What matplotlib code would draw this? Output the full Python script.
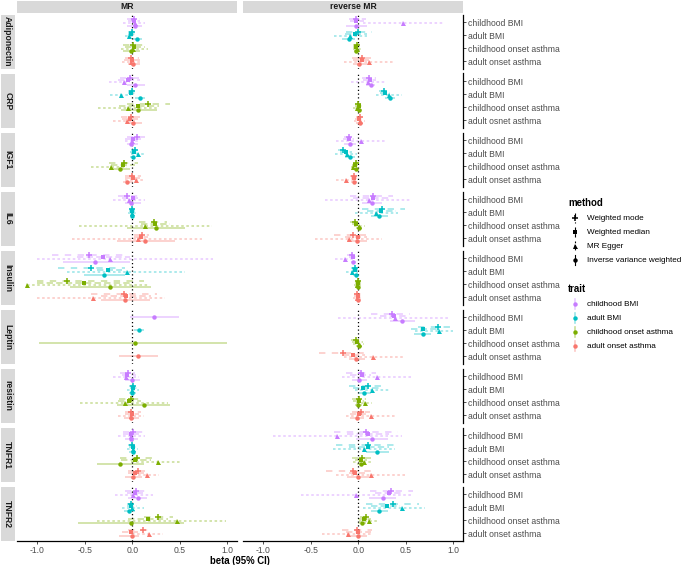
import numpy as np
import matplotlib
matplotlib.use('Agg')
import matplotlib.pyplot as plt
from matplotlib.patches import Rectangle

plt.rcParams['font.family'] = ['Liberation Sans', 'DejaVu Sans']

proteins = ['Adiponectin', 'CRP', 'IGF1', 'IL6', 'Insulin', 'Leptin',
            'resistin', 'TNFR1', 'TNFR2']
traits = ['childhood BMI', 'adult BMI', 'childhood onset asthma',
          'adult onset asthma']
# the CRP panel carries a typo in the original figure
crp_traits = ['childhood BMI', 'adult BMI', 'childhood onset asthma',
              'adult osnet asthma']
methods = ['Weighted mode', 'Weighted median', 'MR Egger',
           'Inverse variance weighted']
panels = ['MR', 'reverse MR']
trait_colors = ['#C77CFF', '#00BFC4', '#7CAE00', '#F8766D']
x_ticks = [-1.0, -0.5, 0.0, 0.5, 1.0]

nan = np.nan
# per protein: 4 traits x [mode, median, egger, ivw]
mr_est = [
    [0.02, 0.02, 0.03, 0.03, 0.0, -0.01, -0.03, 0.05, 0.01, 0.02, 0.01, -0.01, -0.01, 0.0, -0.01, 0.01],
    [-0.02, -0.04, -0.09, 0.03, 0.0, -0.01, -0.12, 0.08, 0.17, 0.06, -0.04, 0.06, -0.01, -0.02, -0.06, 0.01],
    [0.05, 0.01, 0.0, -0.01, 0.03, 0.02, 0.06, 0.01, -0.09, -0.1, -0.22, -0.13, 0.0, 0.01, 0.035, -0.05],
    [-0.05, 0.01, -0.035, -0.01, 0.0, 0.0, 0.0, 0.0, 0.23, 0.245, 0.13, 0.25, 0.1, 0.09, 0.06, 0.14],
    [-0.46, -0.31, -0.23, -0.39, -0.43, -0.26, -0.06, -0.3, -0.69, -0.51, -1.11, -0.23, -0.09, -0.07, -0.41, -0.08],
    [nan, nan, nan, 0.23, nan, nan, nan, 0.07, nan, nan, nan, 0.03, nan, nan, nan, 0.06],
    [-0.04, -0.05, -0.07, 0.0, 0.01, 0.01, 0.0, 0.0, -0.015, -0.03, -0.08, 0.12, -0.01, 0.0, -0.01, -0.015],
    [0.01, -0.01, -0.01, -0.01, 0.0, 0.01, 0.01, 0.01, 0.05, 0.03, 0.27, -0.13, 0.06, 0.03, 0.16, 0.01],
    [0.035, 0.03, 0.01, 0.06, -0.01, -0.015, 0.0, -0.035, 0.27, 0.17, 0.47, -0.01, 0.11, -0.01, 0.18, 0.0],
]
mr_lo = [
    [-0.05, -0.04, -0.1, -0.05, -0.04, -0.04, -0.08, 0.01, -0.1, -0.08, -0.12, -0.1, -0.08, -0.09, -0.11, -0.04],
    [-0.13, -0.15, -0.25, -0.06, -0.04, -0.04, -0.23, 0.03, -0.06, -0.14, -0.36, -0.12, -0.12, -0.11, -0.2, -0.06],
    [-0.05, -0.08, -0.08, -0.06, -0.01, -0.02, -0.01, -0.02, -0.24, -0.22, -0.43, -0.24, -0.08, -0.08, -0.08, -0.1],
    [-0.15, -0.11, -0.2, -0.08, -0.03, -0.03, -0.04, -0.02, 0.07, 0.09, -0.56, -0.06, 0.02, 0.02, -0.64, -0.16],
    [-0.85, -0.58, -1.0, -0.73, -0.78, -0.37, -0.69, -0.51, -1.0, -1.0, -1.11, -0.66, -0.43, -0.33, -1.0, -0.33],
    [nan, nan, nan, -0.02, nan, nan, nan, 0.02, nan, nan, nan, -0.98, nan, nan, nan, -0.14],
    [-0.13, -0.11, -0.2, -0.08, -0.03, -0.02, -0.05, -0.03, -0.14, -0.15, -0.55, -0.16, -0.08, -0.08, -0.15, -0.09],
    [-0.1, -0.1, -0.15, -0.08, -0.04, -0.03, -0.05, -0.03, -0.13, -0.12, -0.01, -0.37, -0.04, -0.04, 0.01, -0.08],
    [-0.08, -0.06, -0.18, -0.04, -0.06, -0.06, -0.11, -0.09, 0.12, -0.04, -0.37, -0.57, -0.04, -0.11, 0.0, -0.14],
]
mr_hi = [
    [0.08, 0.08, 0.14, 0.1, 0.04, 0.03, 0.03, 0.1, 0.12, 0.13, 0.17, 0.08, 0.07, 0.09, 0.09, 0.08],
    [0.07, 0.08, -0.02, 0.13, 0.04, 0.03, -0.01, 0.13, 0.4, 0.28, 0.28, 0.26, 0.08, 0.06, 0.03, 0.1],
    [0.14, 0.1, 0.08, 0.06, 0.07, 0.06, 0.12, 0.03, 0.06, 0.03, -0.06, -0.02, 0.09, 0.08, 0.14, 0.01],
    [0.06, 0.08, 0.13, 0.09, 0.03, 0.03, 0.04, 0.02, 0.37, 0.4, 0.84, 0.56, 0.18, 0.17, 0.74, 0.45],
    [-0.06, -0.02, 0.85, -0.02, -0.08, -0.11, 0.56, -0.08, 0.12, 0.01, 0.17, 0.2, 0.26, 0.2, 0.35, 0.19],
    [nan, nan, nan, 0.49, nan, nan, nan, 0.12, nan, nan, nan, 1.0, nan, nan, nan, 0.27],
    [0.03, 0.04, 0.07, 0.08, 0.05, 0.05, 0.07, 0.04, 0.1, 0.09, 0.38, 0.4, 0.09, 0.07, 0.12, 0.07],
    [0.13, 0.08, 0.13, 0.06, 0.05, 0.05, 0.06, 0.04, 0.23, 0.2, 0.52, 0.12, 0.14, 0.12, 0.28, 0.1],
    [0.16, 0.15, 0.22, 0.16, 0.05, 0.05, 0.12, 0.03, 0.43, 0.38, 0.99, 0.55, 0.2, 0.08, 0.32, 0.07],
]
rev_est = [
    [-0.02, -0.02, 0.47, -0.02, 0.0, -0.035, -0.09, -0.1, -0.01, -0.02, -0.01, -0.02, 0.035, 0.045, 0.115, 0.01],
    [0.115, 0.12, 0.105, 0.13, 0.27, 0.28, 0.325, 0.33, 0.0, 0.005, -0.01, 0.01, 0.02, 0.01, 0.02, 0.02],
    [-0.095, -0.1, 0.025, -0.09, -0.165, -0.13, -0.12, -0.09, -0.025, -0.035, -0.05, -0.025, -0.045, -0.04, -0.13, -0.045],
    [0.16, 0.16, 0.115, 0.15, 0.255, 0.245, 0.185, 0.22, -0.035, -0.02, 0.01, 0.01, -0.06, 0.0, -0.1, -0.01],
    [-0.07, -0.06, -0.135, -0.05, -0.035, -0.035, -0.07, -0.025, -0.005, -0.005, -0.01, -0.005, -0.01, -0.005, -0.01, -0.005],
    [0.355, 0.375, 0.385, 0.465, 0.84, 0.68, 0.85, 0.68, -0.02, -0.01, 0.005, 0.01, -0.165, -0.05, 0.16, -0.02],
    [0.025, 0.035, 0.2, 0.01, 0.105, 0.05, 0.145, 0.065, 0.01, 0.01, 0.07, 0.0, 0.025, 0.01, 0.13, -0.01],
    [0.08, 0.105, -0.22, 0.145, 0.105, 0.1, 0.06, 0.2, 0.035, 0.025, 0.06, 0.025, -0.06, -0.035, 0.13, 0.0],
    [0.35, 0.325, -0.02, 0.26, 0.365, 0.3, 0.46, 0.22, 0.08, 0.06, 0.11, 0.035, -0.01, 0.0, -0.105, 0.0],
]
rev_lo = [
    [-0.1, -0.09, 0.05, -0.13, -0.13, -0.14, -0.26, -0.17, -0.05, -0.05, -0.06, -0.04, -0.07, -0.05, -0.15, -0.05],
    [0.045, 0.05, -0.08, 0.08, 0.22, 0.23, 0.19, 0.28, -0.03, -0.03, -0.05, -0.02, -0.02, -0.03, -0.04, -0.02],
    [-0.15, -0.16, -0.23, -0.15, -0.21, -0.19, -0.245, -0.14, -0.06, -0.07, -0.08, -0.05, -0.09, -0.08, -0.23, -0.08],
    [-0.09, -0.06, -0.35, 0.045, 0.035, 0.09, -0.035, 0.13, -0.09, -0.07, -0.045, -0.02, -0.26, -0.14, -0.455, -0.115],
    [-0.12, -0.1, -0.245, -0.08, -0.08, -0.07, -0.13, -0.05, -0.03, -0.03, -0.04, -0.03, -0.045, -0.045, -0.05, -0.035],
    [0.14, 0.23, -0.21, 0.33, 0.63, 0.56, 0.6, 0.59, -0.08, -0.07, -0.06, -0.025, -0.415, -0.165, -0.155, -0.1],
    [-0.13, -0.09, -0.175, -0.07, -0.095, -0.06, -0.035, 0.0, -0.07, -0.05, -0.02, -0.035, -0.07, -0.09, -0.13, -0.09],
    [-0.26, -0.12, -0.9, -0.02, -0.235, -0.1, -0.27, 0.08, -0.07, -0.035, -0.05, -0.01, -0.34, -0.1, -0.235, -0.115],
    [0.12, 0.175, -0.6, 0.115, 0.08, 0.14, 0.05, 0.13, 0.02, 0.0, 0.01, 0.0, -0.175, -0.13, -0.385, -0.09],
]
rev_hi = [
    [0.08, 0.06, 0.89, 0.09, 0.15, 0.09, 0.09, -0.035, 0.02, 0.02, 0.03, 0.02, 0.13, 0.13, 0.37, 0.09],
    [0.19, 0.19, 0.29, 0.18, 0.32, 0.33, 0.465, 0.39, 0.03, 0.04, 0.03, 0.04, 0.06, 0.06, 0.07, 0.05],
    [-0.035, -0.045, 0.29, -0.02, -0.115, -0.07, -0.01, -0.035, 0.01, 0.0, -0.01, 0.0, -0.01, -0.01, -0.035, -0.01],
    [0.37, 0.35, 0.56, 0.255, 0.49, 0.4, 0.42, 0.315, 0.02, 0.02, 0.07, 0.035, 0.14, 0.09, 0.255, 0.09],
    [-0.02, -0.02, -0.035, -0.025, 0.01, 0.0, 0.0, 0.0, 0.025, 0.025, 0.03, 0.02, 0.025, 0.035, 0.05, 0.025],
    [0.55, 0.52, 0.955, 0.6, 1.0, 0.86, 1.0, 0.77, 0.05, 0.05, 0.06, 0.035, 0.08, 0.07, 0.47, 0.07],
    [0.185, 0.14, 0.57, 0.09, 0.3, 0.22, 0.325, 0.14, 0.08, 0.06, 0.15, 0.035, 0.12, 0.08, 0.395, 0.06],
    [0.42, 0.325, 0.465, 0.315, 0.435, 0.325, 0.385, 0.325, 0.14, 0.09, 0.16, 0.06, 0.2, 0.09, 0.5, 0.11],
    [0.575, 0.465, 0.57, 0.4, 0.645, 0.44, 0.7, 0.315, 0.15, 0.13, 0.22, 0.08, 0.15, 0.13, 0.16, 0.09],
]

W, H = 685, 565
fig = plt.figure(figsize=(W / 100, H / 100), dpi=100)


def px_axes(x0, y0, x1, y1):
    # pixel box (top-left origin) -> figure axes
    return fig.add_axes([x0 / W, 1 - y1 / H, (x1 - x0) / W, (y1 - y0) / H])


col_x = [(17, 237), (243, 463)]
top, ph, step = 14.5, 54.5, 59
markers = ['+', 's', '^', 'o']
msizes = [4.6, 2.9, 3.6, 3.2]
dashes = [(0, (4, 4)), (0, (4, 2)), (0, (1.6, 1.6)), '-']
dodge = 0.167
grey_txt = '#4D4D4D'

for c, title in enumerate(panels):
    x0, x1 = col_x[c]
    sax = px_axes(x0, 0.5, x1, 13)
    sax.add_patch(Rectangle((0, 0), 1, 1, color='#D9D9D9', transform=sax.transAxes))
    sax.text(0.5, 0.5, title, ha='center', va='center', fontsize=6.2,
             fontweight='bold', color='#1A1A1A', transform=sax.transAxes)
    sax.set_axis_off()

for r, prot in enumerate(proteins):
    y0 = top + r * step
    y1 = y0 + ph
    lax = px_axes(0.5, y0, 15, y1)
    lax.add_patch(Rectangle((0, 0), 1, 1, color='#D9D9D9', transform=lax.transAxes))
    lax.text(0.5, 0.5, prot, ha='center', va='center', rotation=270,
             fontsize=6.2, fontweight='bold', color='#1A1A1A',
             transform=lax.transAxes)
    lax.set_axis_off()

    for c in range(2):
        est, lo, hi = [(mr_est, mr_lo, mr_hi), (rev_est, rev_lo, rev_hi)][c]
        x0, x1 = col_x[c]
        ax = px_axes(x0, y0, x1, y1)
        ax.set_xlim(-1.215, 1.105)
        ax.set_ylim(3.6, -0.6)
        ax.axvline(0, color='black', ls=(0, (1, 2)), lw=0.9, zorder=2)
        for t in range(4):
            present = [m for m in range(4) if not np.isnan(est[r][t * 4 + m])]
            n = len(present)
            for j, m in enumerate(present):
                k = t * 4 + m
                y = t + (j - (n - 1) / 2) * dodge
                ax.plot([lo[r][k], hi[r][k]], [y, y], color=trait_colors[t],
                        ls=dashes[m], lw=1.15, alpha=0.4,
                        solid_capstyle='butt', zorder=1)
                ax.plot(est[r][k], y, marker=markers[m], ms=msizes[m],
                        mew=1.1 if m == 0 else 0, color=trait_colors[t],
                        ls='none', zorder=3)
        for s in ['top', 'left', 'right', 'bottom']:
            ax.spines[s].set_visible(False)
        ax.set_facecolor('none')
        if r == len(proteins) - 1:
            ax.spines['bottom'].set_visible(True)
            ax.spines['bottom'].set_linewidth(0.9)
            ax.set_xticks(x_ticks)
            ax.set_xticklabels(['%.1f' % v for v in x_ticks])
            ax.tick_params(axis='x', length=2.2, width=0.6, color='#333333',
                           labelsize=6.2, labelcolor=grey_txt, pad=1.5)
        else:
            ax.set_xticks([])
        if c == 1:
            ax.spines['right'].set_visible(True)
            ax.spines['right'].set_linewidth(0.9)
            ax.yaxis.tick_right()
            ax.set_yticks(range(4))
            ax.set_yticklabels(crp_traits if prot == 'CRP' else traits)
            ax.tick_params(axis='y', length=2.2, width=0.6, color='#333333',
                           labelsize=6.2, labelcolor=grey_txt, pad=1.5)
        else:
            ax.set_yticks([])

fig.text(240 / W, 1 - 560.5 / H, 'beta (95% CI)', ha='center', va='center',
         fontsize=6.9, fontweight='bold')

# legends
lg = px_axes(0, 0, W, H)
lg.set_xlim(0, W)
lg.set_ylim(H, 0)
lg.set_axis_off()
lg.set_facecolor('none')
lg.text(568, 203, 'method', fontsize=6.9, fontweight='bold', va='center')
for i, m in enumerate(methods):
    yy = 218 + i * 14
    lg.plot([575, 575], [yy - 5, yy + 5], color='black', ls=dashes[i], lw=0.8)
    lg.plot(575, yy, marker=markers[i], ms=msizes[i], mew=1.1 if i == 0 else 0,
            color='black', ls='none')
    lg.text(587, yy, m, fontsize=5.9, va='center')
lg.text(568, 289, 'trait', fontsize=6.9, fontweight='bold', va='center')
for i, t in enumerate(traits):
    yy = 304 + i * 14
    lg.plot([575, 575], [yy - 5, yy + 5], color=trait_colors[i], lw=1.2, alpha=0.4)
    lg.plot(575, yy, marker='o', ms=3.2, mew=0, color=trait_colors[i], ls='none')
    lg.text(587, yy, t, fontsize=5.9, va='center')

fig.savefig('out.png', dpi=100)
